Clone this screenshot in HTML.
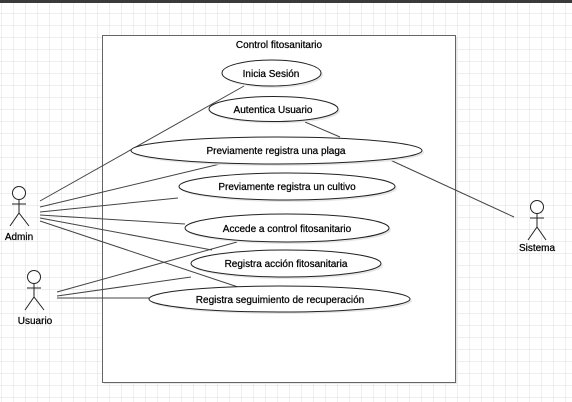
<!DOCTYPE html>
<html><head><style>
html,body{margin:0;padding:0;width:572px;height:402px;overflow:hidden;background:#fff}
svg{display:block}
text{font-family:"Liberation Sans",sans-serif;font-size:10px;fill:#000;stroke:#000;stroke-width:0.25}
</style></head><body>
<svg width="572" height="402" viewBox="0 0 572 402" xmlns="http://www.w3.org/2000/svg">
<defs>
<pattern id="g" width="12" height="12" patternUnits="userSpaceOnUse" x="2" y="2">
<path d="M12 0V12H0" fill="none" stroke="#dcdcdc" stroke-width="1"/>
</pattern>
</defs>
<rect width="572" height="402" fill="url(#g)"/>
<rect x="0" y="0" width="572" height="3" fill="#3a3a3a"/>
<rect x="104" y="37" width="353" height="347" fill="#e8e8e8"/>
<rect x="102.5" y="35.5" width="353" height="347" fill="#fff" stroke="#666" stroke-width="1"/>
<text x="279" y="48" text-anchor="middle">Control fitosanitario</text>
<g fill="none" stroke="#444" stroke-width="1">
<line x1="40" y1="201" x2="244" y2="86"/>
<line x1="40" y1="207" x2="220" y2="164"/>
<line x1="40" y1="212" x2="178" y2="198"/>
<line x1="40" y1="215" x2="185" y2="224"/>
<line x1="40" y1="218" x2="212" y2="250"/>
<line x1="40" y1="221" x2="238" y2="287"/>
<line x1="57" y1="292" x2="237" y2="242"/>
<line x1="57" y1="296" x2="191" y2="277"/>
<line x1="57" y1="298" x2="149" y2="298"/>
<line x1="305" y1="122" x2="340" y2="137"/>
<line x1="388" y1="159" x2="514" y2="217"/>
</g>
<g fill="#e6e6e6" stroke="none">
<ellipse cx="273.5" cy="75" rx="49.5" ry="13"/>
<ellipse cx="275.5" cy="111" rx="64.5" ry="12.5"/>
<ellipse cx="278.5" cy="152.5" rx="145.5" ry="13.5"/>
<ellipse cx="289" cy="188.5" rx="108" ry="13.5"/>
<ellipse cx="289" cy="230" rx="102" ry="14"/>
<ellipse cx="288" cy="265.5" rx="95" ry="13.5"/>
<ellipse cx="281.5" cy="301" rx="130.5" ry="13"/>
</g>
<g fill="#fff" stroke="#222" stroke-width="1">
<ellipse cx="271.5" cy="73" rx="49.5" ry="13"/>
<ellipse cx="273.5" cy="109" rx="64.5" ry="12.5"/>
<ellipse cx="276.5" cy="150.5" rx="145.5" ry="13.5"/>
<ellipse cx="287" cy="186.5" rx="108" ry="13.5"/>
<ellipse cx="287" cy="228" rx="102" ry="14"/>
<ellipse cx="286" cy="263.5" rx="95" ry="13.5"/>
<ellipse cx="279.5" cy="299" rx="130.5" ry="13"/>
</g>
<g text-anchor="middle">
<text x="271" y="77">Inicia Sesión</text>
<text x="273" y="113">Autentica Usuario</text>
<text x="276" y="154">Previamente registra una plaga</text>
<text x="287" y="190">Previamente registra un cultivo</text>
<text x="287" y="232">Accede a control fitosanitario</text>
<text x="286" y="267">Registra acción fitosanitaria</text>
<text x="280" y="303">Registra seguimiento de recuperación</text>
</g>
<g fill="#fff" stroke="#222" stroke-width="1">
<circle cx="19" cy="193" r="6.5"/>
<path d="M19 199.5V213M12 204H26M10 226L19 213L29 226" fill="none"/>
<circle cx="34" cy="277" r="6.5"/>
<path d="M34 283.5V297M27 288H41M25 310L34 297L44 310" fill="none"/>
<circle cx="537" cy="207" r="6.5"/>
<path d="M537 213.5V227M530 218H544M528 240L537 227L546 240" fill="none"/>
</g>
<text x="19" y="240" text-anchor="middle">Admin</text>
<text x="35" y="324" text-anchor="middle">Usuario</text>
<text x="537" y="251" text-anchor="middle">Sistema</text>
</svg>
</body></html>
